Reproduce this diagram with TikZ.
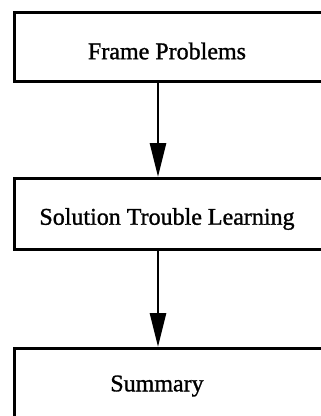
\documentclass[tikz,border=0pt]{standalone}
\usepackage{fontspec}
\setmainfont{Liberation Serif}[FakeBold=1.2]
\usetikzlibrary{arrows.meta}
\begin{document}
\begin{tikzpicture}[x=1pt,y=-1pt,
  stagebox/.style={draw, line width=2.8pt, rectangle, anchor=north west, inner sep=0pt},
  stagetext/.style={font=\fontsize{24}{28}\selectfont, inner sep=0pt},
  flow/.style={line width=2.8pt, -{Triangle[length=34pt,width=16pt]}}]
\useasboundingbox (0,0) rectangle (321,416);
\clip (0,0) rectangle (321,416);
% stage boxes (they run past the right edge of the page)
\node[stagebox, minimum width=330pt, minimum height=69pt] (b1) at (13,11) {};
\node[stagebox, minimum width=330pt, minimum height=71pt] (b2) at (13,177) {};
\node[stagebox, minimum width=330pt, minimum height=90pt] (b3) at (13,347) {};
% labels
\node[stagetext] (t1) at (167,51) {Frame Problems};
\node[stagetext] (t2) at (167,219) {Solution Trouble Learning};
\node[stagetext] (t3) at (157,386) {Summary};
% connector column
\coordinate (ax) at (158,0);
\draw[flow] (b1.south -| ax) -- (b2.north -| ax);
\draw[flow] (b2.south -| ax) -- (b3.north -| ax);
\end{tikzpicture}
\end{document}
